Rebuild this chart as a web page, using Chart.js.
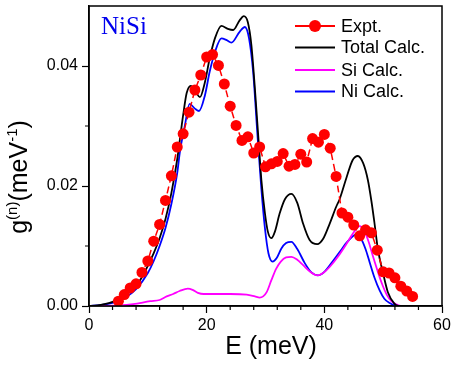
<!DOCTYPE html>
<html>
<head>
<meta charset="utf-8">
<title>NiSi g(n)</title>
<script src="https://cdn.jsdelivr.net/npm/chart.js@4.4.1/dist/chart.umd.min.js"></script>
<style>
  html, body { margin: 0; padding: 0; background: #fff; }
  #wrap { width: 459px; height: 365px; }
</style>
</head>
<body>
<div id="wrap"><canvas id="grafica"></canvas></div>
<script>
// experimental points
const expE = [5, 6, 7, 8, 9, 10, 11, 12, 13, 14, 15, 16, 17, 18, 19, 20, 21, 22, 23, 24, 25,
  26, 27, 28, 29, 30, 31, 32, 33, 34, 35, 36, 37, 38, 39, 40, 41, 42, 43, 44, 45,
  46, 47, 48, 49, 50, 51, 52, 53, 54, 55];
const expG = [0.0008, 0.0019, 0.0030, 0.0037, 0.0056, 0.0075, 0.0108, 0.0136, 0.0176, 0.0217, 0.0265,
  0.0287, 0.0323, 0.0360, 0.0385, 0.0415, 0.0419, 0.0401, 0.0370, 0.0333, 0.0301,
  0.0276, 0.0282, 0.0255, 0.0265, 0.0232, 0.0237, 0.0241, 0.0254, 0.0233, 0.0236,
  0.0253, 0.0240, 0.0279, 0.0273, 0.0286, 0.0263, 0.0216, 0.0155, 0.0148, 0.0135,
  0.0117, 0.0127, 0.0122, 0.0093, 0.0057, 0.0055, 0.0047, 0.0033, 0.0025, 0.0016];

// calculated curves
const totalE = [0, 1, 2, 3, 4, 5, 6, 7, 8, 9, 10, 11, 12, 13, 14, 15, 16, 16.6, 17.3, 18.2, 18.85,
  19.7, 20.5, 21.4, 22.5, 23.6, 24.5, 25.6, 26.3, 27.0, 27.6, 28.2, 28.8, 29.3, 29.9,
  30.4, 31.0, 31.6, 32.4, 33.3, 34.4, 35.4, 36.4, 37.5, 38.8, 39.8, 40.9, 42.0, 42.6,
  43.8, 44.8, 45.7, 46.6, 47.4, 48.0, 48.5, 49.1, 50.0, 50.8, 51.9, 52.6, 60];
const totalG = [0, 0.00005, 0.0002, 0.0004, 0.0007, 0.0011, 0.0017, 0.0025, 0.0034, 0.0048, 0.0067,
  0.0088, 0.0113, 0.0145, 0.0188, 0.0245, 0.0318, 0.0355, 0.0367, 0.0356, 0.0348,
  0.0373, 0.0412, 0.0446, 0.0467, 0.0462, 0.0460, 0.0476, 0.0483, 0.0473, 0.0435,
  0.0362, 0.0279, 0.0210, 0.0155, 0.0124, 0.0113, 0.0124, 0.0154, 0.0178, 0.0187,
  0.0172, 0.0137, 0.0110, 0.0103, 0.0112, 0.0137, 0.0165, 0.0178, 0.0215, 0.0243,
  0.0250, 0.0238, 0.0210, 0.0175, 0.0140, 0.0095, 0.0054, 0.0023, 0.0004, 0, 0];

const siE = [0, 5, 7.5, 10.4, 12, 13.2, 14.3, 15.4, 16.8, 17.6, 18.5, 19.5, 21, 24, 26.8, 28.2,
  29.0, 29.6, 30.2, 31.0, 31.8, 32.6, 33.5, 34.4, 35.4, 36.4, 37.6, 38.8, 39.8, 40.9,
  42.3, 43.8, 45.0, 46.0, 46.8, 47.5, 48.2, 49.0, 49.8, 50.6, 51.4, 52.2, 53, 60];
const siG = [0, 0.0001, 0.0003, 0.0008, 0.0010, 0.0016, 0.0020, 0.0025, 0.0029, 0.0027, 0.0022,
  0.0020, 0.0020, 0.0020, 0.0019, 0.0016, 0.0014, 0.0016, 0.0023, 0.0043, 0.0062,
  0.0074, 0.0081, 0.0082, 0.0077, 0.0068, 0.0057, 0.0051, 0.0055, 0.0065, 0.0082,
  0.0104, 0.0123, 0.0133, 0.0125, 0.0108, 0.0085, 0.0060, 0.0037, 0.0019, 0.0008,
  0.0003, 0, 0];

const niE = [0, 2, 4, 6, 8, 10, 11, 12, 13, 14, 15, 15.45, 16.3, 17.1, 18.0, 18.7, 19.7, 20.5,
  21.4, 22.5, 23.4, 24.2, 25.6, 26.5, 27.2, 27.9, 28.6, 29.3, 29.9, 30.5, 31.2, 31.9,
  32.7, 33.5, 34.4, 35.4, 36.7, 37.8, 38.9, 40.0, 41.3, 42.6, 44.0, 45.4, 46.2, 47.0,
  47.7, 48.5, 49.4, 50.2, 51.1, 52.5, 60];
const niG = [0, 0.00015, 0.0005, 0.0013, 0.0028, 0.0055, 0.0075, 0.0100, 0.0130, 0.0170, 0.0222,
  0.0257, 0.0301, 0.0337, 0.0329, 0.0325, 0.0351, 0.0390, 0.0423, 0.0446, 0.0443,
  0.0439, 0.0457, 0.0465, 0.0446, 0.0390, 0.0290, 0.0195, 0.0130, 0.0088, 0.0074,
  0.0080, 0.0096, 0.0105, 0.0107, 0.0095, 0.0071, 0.0056, 0.0051, 0.0057, 0.0073,
  0.0090, 0.0108, 0.0119, 0.0113, 0.0095, 0.0073, 0.0048, 0.0026, 0.0012, 0.0005, 0, 0];

const seriesNames = ['Expt.', 'Total Calc.', 'Si Calc.', 'Ni Calc.'];
const xTicks = [0, 20, 40, 60];
const yTicks = [0, 0.02, 0.04];
const xMinor = [4, 8, 12, 16, 24, 28, 32, 36, 44, 48, 52, 56];
const yMinor = [0.01, 0.03];

const pts = (xs, ys) => xs.map((x, i) => ({x: x, y: ys[i]}));
const FONT = "'Liberation Sans', Arial, sans-serif";

const curve = (label, xs, ys, color) => ({
  label: label,
  data: pts(xs, ys),
  showLine: true,
  borderColor: color,
  borderWidth: 1.8,
  pointRadius: 0,
  cubicInterpolationMode: 'monotone'
});

const datasets = [
  {
    label: seriesNames[0],
    data: pts(expE, expG),
    showLine: true,
    borderColor: '#ff0000',
    backgroundColor: '#ff0000',
    borderWidth: 1.5,
    borderDash: [7, 4],
    pointRadius: 5.5,
    pointBorderWidth: 0,
    pointBackgroundColor: '#ff0000',
    tension: 0
  },
  curve(seriesNames[1], totalE, totalG, '#000000'),
  curve(seriesNames[2], siE, siG, '#ff00ff'),
  curve(seriesNames[3], niE, niG, '#0000ff')
];

const decor = {
  id: 'decor',
  afterDraw(chart) {
    const ctx = chart.ctx;
    const a = chart.chartArea;
    const sx = chart.scales.x, sy = chart.scales.y;
    ctx.save();
    ctx.strokeStyle = '#000';
    ctx.lineWidth = 1.5;
    ctx.strokeRect(a.left, a.top, a.right - a.left, a.bottom - a.top);

    // minor ticks
    ctx.lineWidth = 1.2;
    ctx.beginPath();
    xMinor.forEach(v => {
      const px = sx.getPixelForValue(v);
      ctx.moveTo(px, a.bottom);
      ctx.lineTo(px, a.bottom + 4);
    });
    yMinor.forEach(v => {
      const py = sy.getPixelForValue(v);
      ctx.moveTo(a.left, py);
      ctx.lineTo(a.left - 4, py);
    });
    ctx.stroke();

    // x title
    ctx.fillStyle = '#000';
    ctx.font = '25px ' + FONT;
    ctx.textAlign = 'center';
    ctx.textBaseline = 'alphabetic';
    ctx.fillText('E (meV)', 271, 354);

    // y title with superscripts
    const parts = [['g', 0], ['(n)', 1], ['(meV', 0], ['-1', 1], [')', 0]];
    const fontFor = s => (s ? '15px ' : '25px ') + FONT;
    let total = 0;
    parts.forEach(p => { ctx.font = fontFor(p[1]); total += ctx.measureText(p[0]).width; });
    ctx.translate(27, 177);
    ctx.rotate(-Math.PI / 2);
    ctx.textAlign = 'left';
    let cx = -total / 2;
    parts.forEach(p => {
      ctx.font = fontFor(p[1]);
      ctx.fillText(p[0], cx, p[1] ? -10 : 0);
      cx += ctx.measureText(p[0]).width;
    });
    ctx.restore();

    // sample label
    ctx.save();
    ctx.fillStyle = '#0000ee';
    ctx.font = "25px 'Liberation Serif', 'Times New Roman', serif";
    ctx.textAlign = 'left';
    ctx.textBaseline = 'alphabetic';
    ctx.fillText('NiSi', 101, 34);

    // legend
    const rows = [26, 47.5, 70, 91.5];
    ctx.font = '18px ' + FONT;
    ctx.textBaseline = 'middle';
    chart.data.datasets.forEach((ds, i) => {
      const y = rows[i];
      ctx.strokeStyle = ds.borderColor;
      ctx.lineWidth = 1.8;
      ctx.setLineDash([]);
      ctx.beginPath();
      ctx.moveTo(295, y);
      ctx.lineTo(335, y);
      ctx.stroke();
      if (i === 0) {
        ctx.fillStyle = ds.pointBackgroundColor;
        ctx.beginPath();
        ctx.arc(315, y, 6, 0, Math.PI * 2);
        ctx.fill();
      }
      ctx.fillStyle = '#000';
      ctx.fillText(ds.label, 341, y + 1);
    });
    ctx.restore();
  }
};

const graph = document.querySelector('#grafica');

const config = {
  type: 'scatter',
  data: { datasets: datasets },
  options: {
    responsive: true,
    maintainAspectRatio: false,
    animation: false,
    layout: { padding: { top: 6, right: 17, left: 0, bottom: 0 } },
    plugins: { legend: { display: false }, tooltip: { enabled: false } },
    scales: {
      x: {
        type: 'linear',
        min: 0,
        max: 60,
        afterFit: s => { s.height = 59; s.paddingLeft = 0; s.paddingRight = 0; },
        afterBuildTicks: s => { s.ticks = xTicks.map(v => ({value: v})); },
        grid: { drawOnChartArea: false, tickLength: 7, tickColor: '#000', tickWidth: 1.2 },
        border: { display: true, color: '#000', width: 1.5 },
        ticks: { color: '#000', font: { size: 16, family: FONT }, padding: 3, maxRotation: 0,
          callback: v => String(v) }
      },
      y: {
        type: 'linear',
        min: 0,
        max: 0.05,
        afterFit: s => { s.width = 89; s.paddingTop = 0; s.paddingBottom = 0; },
        afterBuildTicks: s => { s.ticks = yTicks.map(v => ({value: v})); },
        grid: { drawOnChartArea: false, tickLength: 7, tickColor: '#000', tickWidth: 1.2 },
        border: { display: true, color: '#000', width: 1.5 },
        ticks: { color: '#000', font: { size: 16, family: FONT }, padding: 4,
          callback: v => v.toFixed(2) }
      }
    }
  },
  plugins: [decor]
};

new Chart(graph, config);
</script>
</body>
</html>
